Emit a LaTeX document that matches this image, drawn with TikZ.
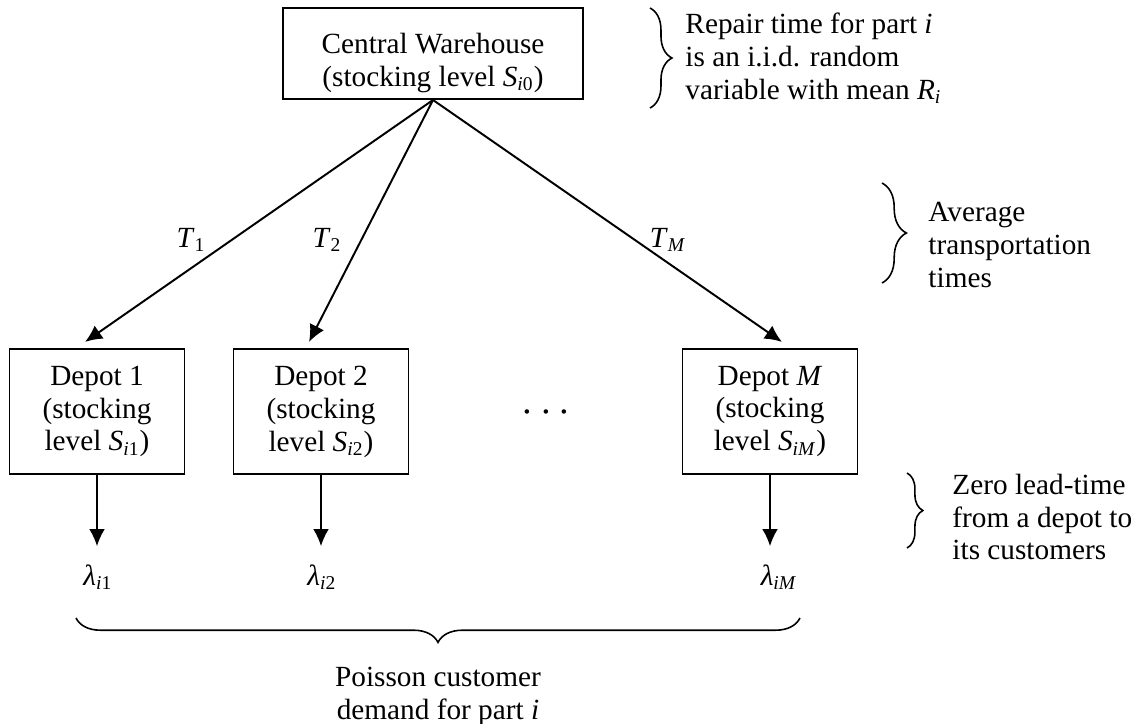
\documentclass[tikz,border=0pt]{standalone}
\usepackage{fontspec}
\setmainfont{Liberation Serif}
\usepackage{tikz}
\usetikzlibrary{arrows.meta}
\usetikzlibrary{decorations.pathreplacing}
\usetikzlibrary{math}
\tikzstyle{box} = [rectangle, draw=black, line width=0.8pt, align=center, inner sep=0pt]
\tikzstyle{arrow} = [-{Latex[length=7pt,width=6.5pt]}, line width=0.8pt]
\tikzstyle{brace} = [decorate, line width=0.65pt]
\tikzstyle{note} = [anchor=west, align=left, inner sep=0pt]
\newcommand{\itsub}[2]{\textit{#1}\textsubscript{#2}}

\begin{document}
\begin{tikzpicture}[x=0.41pt, y=-0.41pt, font=\fontsize{12}{13.5}\selectfont]

  \tikzmath{\dw = 71.75; \dh = 51.25; \dy = 411.5; \ly = 577;}

  \useasboundingbox (0,0) rectangle (1141,723);

  % central warehouse
  \node[box, minimum width=123pt, minimum height=37.3pt] (cw) at (433,53.5) {};
  \node[align=center, inner sep=0pt] (cwtext) at (433,63)
    {Central Warehouse\\(stocking level \itsub{S}{\textit{i}0})};

  % depots
  \node[box, minimum width=\dw pt, minimum height=\dh pt] (d1) at (97,\dy)
    {Depot 1\\(stocking\\level \itsub{S}{\textit{i}1})};
  \node[box, minimum width=\dw pt, minimum height=\dh pt] (d2) at (321,\dy)
    {Depot 2\\(stocking\\level \itsub{S}{\textit{i}2})};
  \node[box, minimum width=\dw pt, minimum height=\dh pt] (dM) at (770,\dy)
    {Depot \textit{M}\\(stocking\\level \itsub{S}{\textit{iM}})};
  \node (dots) at (546,413) {\fontsize{16}{16}\selectfont$\cdots$};

  % transportation
  \draw[arrow] (cw.south) -- ([xshift=-4.9pt, yshift=2.5pt]d1.north);
  \draw[arrow] (cw.south) -- ([xshift=-4.9pt, yshift=2.5pt]d2.north);
  \draw[arrow] (cw.south) -- ([xshift=4.9pt, yshift=2.5pt]dM.north);
  \node (t1) at (191,240) {\itsub{T}{1}};
  \node (t2) at (327,240) {\itsub{T}{2}};
  \node (tM) at (668,240) {\itsub{T}{\textit{M}}};

  % customer demand
  \node (l1) at (98,\ly) {\itsub{λ}{\textit{i}1}};
  \node (l2) at (322,\ly) {\itsub{λ}{\textit{i}2}};
  \node (lM) at (779,\ly) {\itsub{λ}{\textit{iM}}};
  \draw[arrow, shorten >=4pt] (d1.south) -- (d1.south |- l1.north);
  \draw[arrow, shorten >=4pt] (d2.south) -- (d2.south |- l2.north);
  \draw[arrow, shorten >=4pt] (dM.south) -- (dM.south |- lM.north);

  % braces and notes
  \draw[brace, decoration={brace, amplitude=9pt}] (650,8) -- (650,108);
  \node[note] (repair) at (685,58)
    {Repair time for part \textit{i}\\is an i.i.d. random\\variable with mean \itsub{R}{\textit{i}}};

  \draw[brace, decoration={brace, amplitude=10pt}] (882,183) -- (882,283);
  \node[note] (avg) at (928,245) {Average\\transportation\\times};

  \draw[brace, decoration={brace, amplitude=6.5pt}] (907,473) -- (907,548);
  \node[note] (zero) at (952,517) {Zero lead-time\\from a depot to\\its customers};

  \draw[brace, decoration={brace, amplitude=10pt}] (800,618) -- (76,618);
  \node[align=center, inner sep=0pt] (poisson) at (438,696)
    {Poisson customer\\demand for part \textit{i}};

\end{tikzpicture}
\end{document}
